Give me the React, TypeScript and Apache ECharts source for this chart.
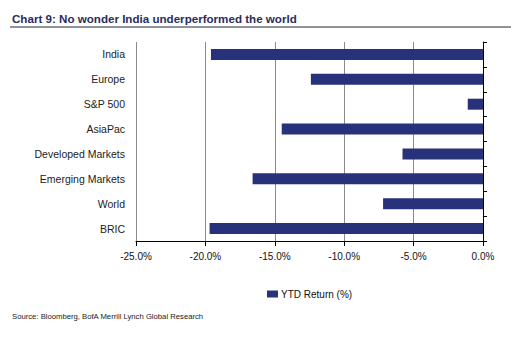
import React, { useEffect, useRef } from "react";
import * as echarts from "echarts";

const categories = ["India", "Europe", "S&P 500", "AsiaPac", "Developed Markets", "Emerging Markets", "World", "BRIC"];
const ytdReturn = [-19.6, -12.4, -1.1, -14.5, -5.8, -16.6, -7.2, -19.7];
const seriesName = "YTD Return (%)";
const titleText = "Chart 9: No wonder India underperformed the world";
const sourceText = "Source: Bloomberg, BofA Merrill Lynch Global Research";

const FONT = "'Liberation Sans', Arial, sans-serif";

export default function App() {
  const ref = useRef<HTMLDivElement>(null);
  useEffect(() => {
    const chart = echarts.init(ref.current!, null, { renderer: "svg" });
    chart.setOption({
      animation: false,
      backgroundColor: "#ffffff",
      textStyle: { fontFamily: FONT },
      graphic: [
        {
          type: "text",
          left: 12,
          top: 12,
          style: { text: titleText, fill: "#2a2d5c", font: `bold 11.6px ${FONT}` },
        },
        {
          type: "line",
          shape: { x1: 10, y1: 27, x2: 511, y2: 27 },
          style: { stroke: "#6b6f7a", lineWidth: 1.5 },
        },
        {
          type: "text",
          left: 12,
          top: 312,
          style: { text: sourceText, fill: "#222222", font: `7.7px ${FONT}` },
        },
      ],
      legend: {
        data: [seriesName],
        left: 262,
        top: 284,
        itemWidth: 11,
        itemHeight: 7,
        itemGap: 4,
        icon: "rect",
        textStyle: { fontSize: 10, color: "#111111", fontFamily: FONT, padding: [0, 0, 0, -2] },
      },
      grid: { left: 136, right: 28, top: 42, bottom: 99, containLabel: false },
      xAxis: {
        type: "value",
        min: -25,
        max: 0,
        interval: 5,
        axisLine: { show: true, lineStyle: { color: "#000000", width: 1 } },
        axisTick: { show: true, length: 5, lineStyle: { color: "#000000" } },
        axisLabel: {
          formatter: (v: number) => v.toFixed(1) + "%",
          fontSize: 10,
          color: "#111111",
          margin: 10,
          fontFamily: FONT,
        },
        splitLine: { show: true, lineStyle: { color: "#8a8a8a", width: 1 } },
      },
      yAxis: [
        {
          type: "category",
          data: categories,
          inverse: true,
          position: "left",
          axisLine: { show: false },
          axisTick: { show: false },
          axisLabel: { fontSize: 10.5, color: "#222222", margin: 11, fontFamily: FONT },
        },
        {
          type: "category",
          data: categories,
          inverse: true,
          position: "right",
          axisLine: { show: true, lineStyle: { color: "#000000", width: 1 } },
          axisTick: { show: true, length: 4, inside: false, lineStyle: { color: "#000000" } },
          axisLabel: { show: false },
        },
      ],
      series: [
        {
          name: seriesName,
          type: "bar",
          yAxisIndex: 0,
          data: ytdReturn,
          barWidth: 11,
          itemStyle: { color: "#27327a" },
        },
      ],
    });
    return () => chart.dispose();
  }, []);
  return <div ref={ref} style={{ position: "fixed", left: 0, top: 0, width: 511, height: 340 }} />;
}
